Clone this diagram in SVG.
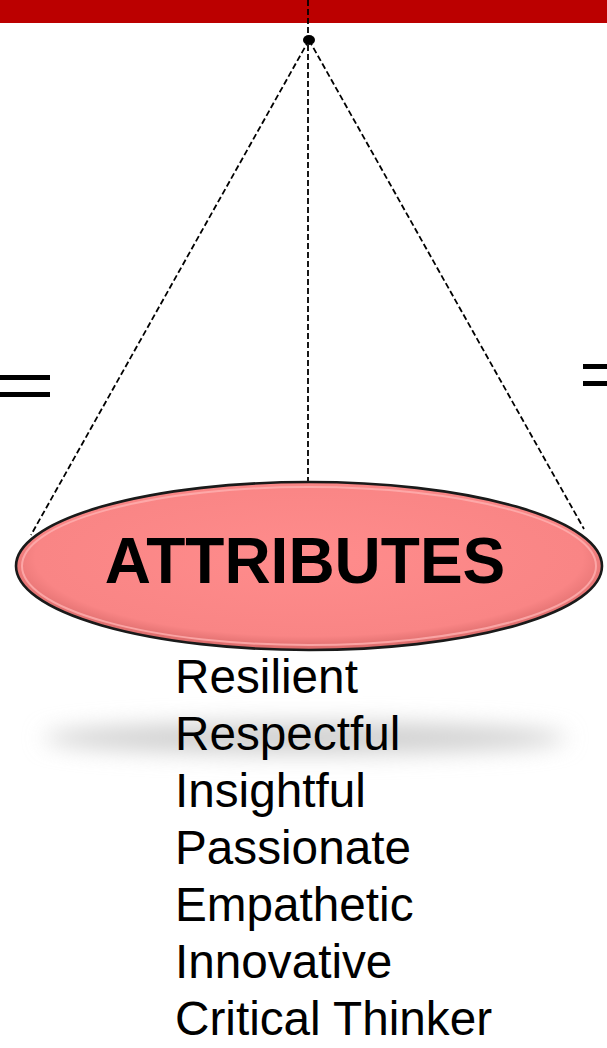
<svg xmlns="http://www.w3.org/2000/svg" width="607" height="1048" viewBox="0 0 607 1048">
<style>
.dash{stroke:#000;stroke-width:1.8;stroke-dasharray:6,3;fill:none}
.bar{fill:#000}
.item{font-family:"Liberation Sans",Arial,sans-serif;font-size:47.7px;fill:#000}
.title{font-family:"Liberation Sans",Arial,sans-serif;font-size:64px;font-weight:bold;fill:#000}
</style>
<defs>
<radialGradient id="fillg" cx="50%" cy="45%" r="55%">
<stop offset="0" stop-color="#FF8C8C"/>
<stop offset="0.85" stop-color="#F98585"/>
<stop offset="1" stop-color="#D86868"/>
</radialGradient>
<filter id="blur" x="-20%" y="-150%" width="140%" height="400%">
<feGaussianBlur stdDeviation="11"/>
</filter>
</defs>
<rect id="band" x="0" y="0" width="607" height="23" fill="#BB0000"/>
<g id="equals-left">
<rect class="bar" x="0" y="375" width="50" height="5"/>
<rect class="bar" x="0" y="392" width="50" height="5"/>
</g>
<g id="equals-right">
<rect class="bar" x="583" y="364" width="24" height="5"/>
<rect class="bar" x="583" y="381" width="24" height="5"/>
</g>
<ellipse id="shadow" cx="305" cy="738" rx="262" ry="16" fill="#d0d0d0" filter="url(#blur)"/>
<g id="connectors">
<line class="dash" x1="308" y1="0" x2="308" y2="481"/>
<line class="dash" x1="309" y1="40" x2="31" y2="535"/>
<line class="dash" x1="309" y1="40" x2="584" y2="529"/>
<ellipse cx="309" cy="40" rx="6" ry="5" fill="#000"/>
</g>
<g id="attributes">
<ellipse cx="309" cy="566" rx="293" ry="84" fill="url(#fillg)" stroke="#1a1a1a" stroke-width="2.6"/>
<ellipse cx="309" cy="566" rx="287" ry="79" fill="none" stroke="#ffb0b0" stroke-width="2" opacity="0.8"/>
<text class="title" x="305" y="583" text-anchor="middle">ATTRIBUTES</text>
</g>
<g id="list">
<text class="item" x="175" y="693">Resilient</text>
<text class="item" x="175" y="750">Respectful</text>
<text class="item" x="175" y="807">Insightful</text>
<text class="item" x="175" y="864">Passionate</text>
<text class="item" x="175" y="921">Empathetic</text>
<text class="item" x="175" y="978">Innovative</text>
<text class="item" x="175" y="1035">Critical Thinker</text>
</g>
</svg>
